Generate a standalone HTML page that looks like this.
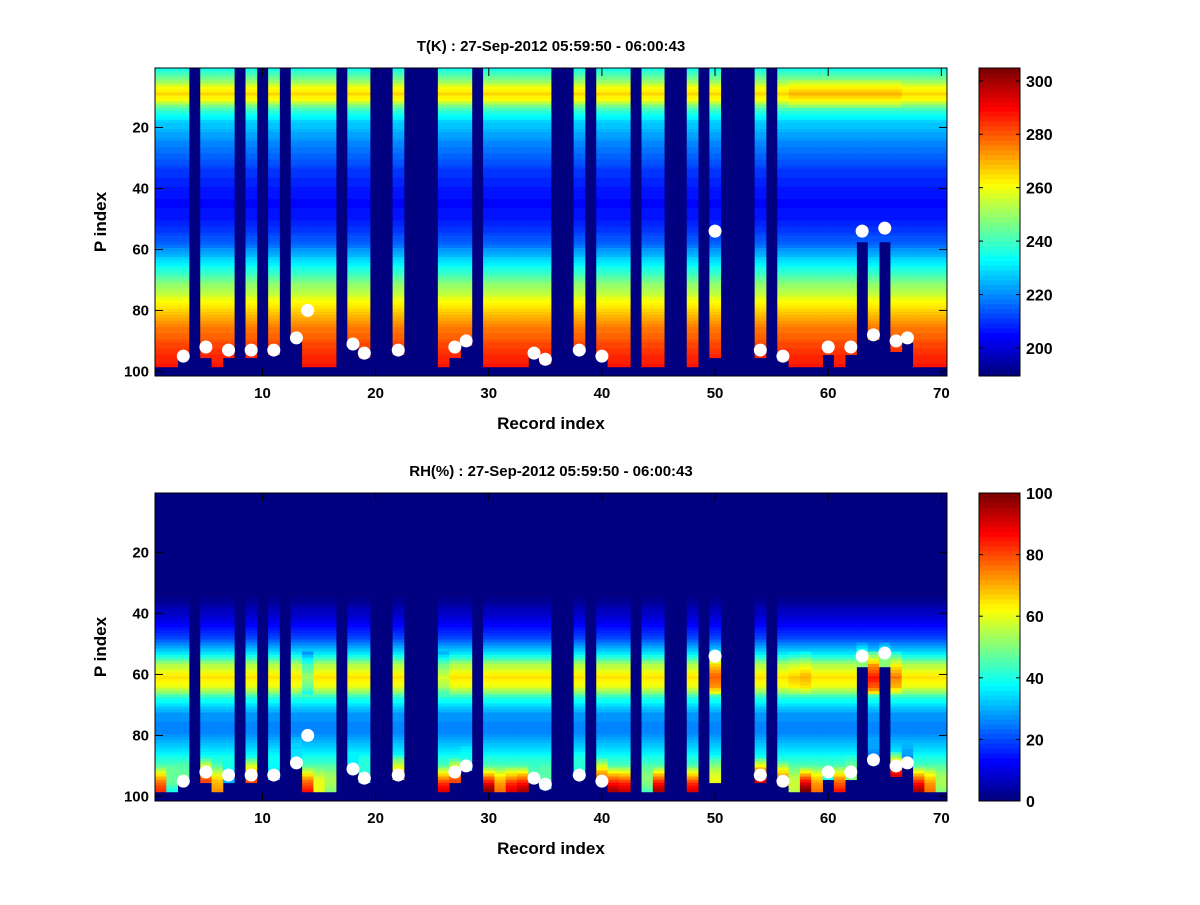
<!DOCTYPE html>
<html><head><meta charset="utf-8">
<style>
html,body{margin:0;padding:0;background:#fff;}
svg text{font-family:"Liberation Sans",Arial,sans-serif;font-weight:bold;}
</style></head>
<body>
<svg id="fig" width="1200" height="900" xmlns="http://www.w3.org/2000/svg">
<rect x="0" y="0" width="1200" height="900" fill="#fff"/>
</svg>
<script>
// ---------- data ----------
const nRec = 70;
const nLev = 101;
const blankRecords = [4,8,10,12,17,20,21,23,24,25,29,36,37,39,43,46,47,49,51,52,53,55];
const bottomRecs = [3,5,7,9,11,13,18,19,22,27,28,34,35,38,40,50,54,56,60,62,63,64,65,66,67];
const bottomVals = [95,95,95,95,94,88,91,95,94,95,91,95,97,93,95,95,95,96,94,94,57,89,57,93,90];
const dotRecs = [3,5,7,9,11,13,14,18,19,22,27,28,34,35,38,40,50,54,56,60,62,63,64,65,66,67];
const dotVals = [95,92,93,93,93,89,80,91,94,93,92,90,94,96,93,95,54,93,95,92,92,54,88,53,90,89];
// temperature base profile (level, K)
const tLevels = [1,4,7,9,11,14,18,25,35,45,52,58,65,72,78,85,92,98];
const tValues = [236,246,260,266,260,240,228,220,210,205,208,216,232,250,262,275,283,287];
// records with warmer upper band
const tWarmRecs = [57,58,59,60,61,62,63,64,65,66];
// RH base profile (level, %)
const rhLevels = [1,33,36,42,48,53,57,61,64,68,73,78,85,92,98];
const rhValues = [0,0,3,10,20,35,55,65,60,40,28,25,35,50,70];
// per-record near-surface RH
const rhSurfRecs = [1,2,3,5,6,7,9,11,13,14,15,16,18,19,22,26,27,28,30,31,32,33,34,35,38,40,41,42,44,45,48,50,54,56,57,58,59,60,61,62,64,66,67,68,69,70];
const rhSurfVals = [82,40,45,80,72,30,80,30,35,85,60,50,35,35,70,90,80,40,98,75,90,95,40,40,40,80,95,92,45,95,90,60,90,80,55,100,75,40,85,50,20,90,20,95,75,50];
const rhPeakRecs = [14,26,50,63,64,66,57,58];
const rhPeakVals = [52,58,78,70,85,75,68,70];
const tTicks = [200,220,240,260,280,300];
const rhTicks = [0,20,40,60,80,100];
const xTicks = [10,20,30,40,50,60,70];
const yTicks = [20,40,60,80,100];

// ---------- helpers ----------
const svg = document.getElementById('fig');
const NS = 'http://www.w3.org/2000/svg';
function mk(tag, attrs, parent){const e=document.createElementNS(NS,tag);for(const k in attrs)e.setAttribute(k,attrs[k]);(parent||svg).appendChild(e);return e;}
function interp(xs,ys,x){if(x<=xs[0])return ys[0];for(let i=1;i<xs.length;i++){if(x<=xs[i]){const t=(x-xs[i-1])/(xs[i]-xs[i-1]);return ys[i-1]+t*(ys[i]-ys[i-1]);}}return ys[ys.length-1];}
function jet(v){v=Math.max(0,Math.min(1,v));
  const r=Math.max(0,Math.min(1,Math.min(4*v-1.5,-4*v+4.5)));
  const g=Math.max(0,Math.min(1,Math.min(4*v-0.5,-4*v+3.5)));
  const b=Math.max(0,Math.min(1,Math.min(4*v+0.5,-4*v+2.5)));
  return 'rgb('+Math.round(r*255)+','+Math.round(g*255)+','+Math.round(b*255)+')';}
function q(v,n){return Math.floor(Math.max(0,Math.min(0.9999,v))*n)/ (n-1);}
function lookup(recs,vals,r,def){const i=recs.indexOf(r);return i<0?def:vals[i];}

const AX = {left:155, right:947};
function xOf(r){return AX.left+(r-0.5)*(AX.right-AX.left)/nRec;}
function makeY(top,bot){return p=>top+(p-0.5)*(bot-top)/nLev;}

function tempVal(r,p){
  let t=interp(tLevels,tValues,p);
  if(tWarmRecs.indexOf(r)>=0 && p>=5 && p<=13) t+=3;
  return t;}
function rhVal(r,p,bot){
  let v=interp(rhLevels,rhValues,p);
  const pk=lookup(rhPeakRecs,rhPeakVals,r,65);
  if(p>=53&&p<=66) v=v*pk/65;
  const s=lookup(rhSurfRecs,rhSurfVals,r,50);
  if(p>bot-8){const t=(p-(bot-8))/8; v=v*(1-t)+s*t;}
  return v;}

function panel(opts){
  const g=mk('g',{});
  
  
  const yOf=makeY(opts.top,opts.bot);
  const cw=(AX.right-AX.left)/nRec;
  const lh=(opts.bot-opts.top)/nLev;
  const bg=mk('rect',{x:AX.left,y:opts.top,width:AX.right-AX.left,height:opts.bot-opts.top,fill:jet(0)},g);
  
  
  for(let r=1;r<=nRec;r++){
    if(blankRecords.indexOf(r)>=0) continue;
    const bot=lookup(bottomRecs,bottomVals,r,98);
    for(let p=1;p<=bot;p++){
      const v=opts.val(r,p,bot);
      const c=jet(q((v-opts.cmin)/(opts.cmax-opts.cmin),64));
      const cell=mk('rect',{x:(xOf(r)-cw/2).toFixed(2),y:(yOf(p)-lh/2).toFixed(2),width:(cw+0.4).toFixed(2),height:(lh+0.4).toFixed(2),fill:c},g);
      
      
    }
  }
  for(let i=0;i<dotRecs.length;i++){
    const d=mk('circle',{cx:xOf(dotRecs[i]),cy:yOf(dotVals[i]),r:6.5,fill:'#fff'},g);
    
    
  }
  const fr=mk('rect',{x:AX.left,y:opts.top,width:AX.right-AX.left,height:opts.bot-opts.top,fill:'none',stroke:'#000','stroke-width':1},g);
  
  
  xTicks.forEach(t=>{const x=xOf(t);
    mk('line',{x1:x,y1:opts.bot,x2:x,y2:opts.bot-8,stroke:'#000'},g);
    mk('line',{x1:x,y1:opts.top,x2:x,y2:opts.top+8,stroke:'#000'},g);
    const tl=mk('text',{x:x,y:opts.bot+22,'text-anchor':'middle','font-size':15},g);tl.textContent=t;
    
    });
  yTicks.forEach(t=>{const y=yOf(t);
    mk('line',{x1:AX.left,y1:y,x2:AX.left+8,y2:y,stroke:'#000'},g);
    mk('line',{x1:AX.right,y1:y,x2:AX.right-8,y2:y,stroke:'#000'},g);
    const tl=mk('text',{x:AX.left-6,y:y+5,'text-anchor':'end','font-size':15},g);tl.textContent=t;
    
    });
  const ti=mk('text',{x:551,y:opts.top-17,'text-anchor':'middle','font-size':15},g);ti.textContent=opts.title;
  
  
  const xl=mk('text',{x:551,y:opts.bot+53,'text-anchor':'middle','font-size':17},g);xl.textContent='Record index';
  
  
  const cy=(opts.top+opts.bot)/2;
  const yl=mk('text',{x:106,y:cy,'text-anchor':'middle','font-size':17,transform:'rotate(-90 106 '+cy+')'},g);yl.textContent='P index';
  
  
  const cb=mk('g',{},g);
  
  
  const cbx=979,cbw=41,n=64,hh=(opts.bot-opts.top)/n;
  for(let i=0;i<n;i++){
    mk('rect',{x:cbx,y:(opts.bot-(i+1)*hh).toFixed(2),width:cbw,height:(hh+0.5).toFixed(2),fill:jet(i/(n-1))},cb);
  }
  mk('rect',{x:cbx,y:opts.top,width:cbw,height:opts.bot-opts.top,fill:'none',stroke:'#000'},cb);
  opts.ticks.forEach(t=>{const y=opts.bot-(t-opts.cmin)/(opts.cmax-opts.cmin)*(opts.bot-opts.top);
    mk('line',{x1:cbx,y1:y,x2:cbx+4,y2:y,stroke:'#000'},cb);
    mk('line',{x1:cbx+cbw,y1:y,x2:cbx+cbw-4,y2:y,stroke:'#000'},cb);
    const tl=mk('text',{x:cbx+cbw+6,y:y+6,'font-size':16},cb);tl.textContent=t;
    
    });
}

panel({name:'temperature-panel',top:68,bot:376,cmin:189.5,cmax:304.8,ticks:tTicks,val:tempVal,title:'T(K) : 27-Sep-2012 05:59:50 - 06:00:43'});
panel({name:'humidity-panel',top:493,bot:801,cmin:0,cmax:100,ticks:rhTicks,val:rhVal,title:'RH(%) : 27-Sep-2012 05:59:50 - 06:00:43'});
</script>
</body></html>
